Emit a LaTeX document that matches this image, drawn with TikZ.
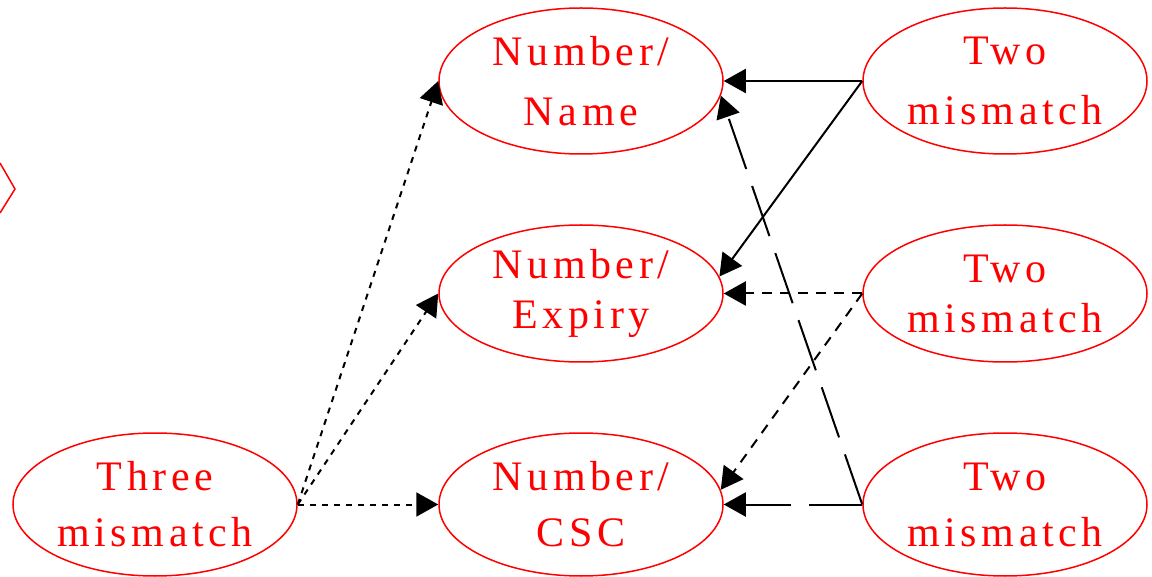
\documentclass[tikz,border=0pt]{standalone}
\usepackage{fontspec}
\setmainfont{Liberation Serif}[LetterSpace=11]
\usetikzlibrary{shapes.geometric,arrows.meta}
\tikzset{
  ell/.style={ellipse, draw=red, line width=1.5pt, minimum width=284pt, inner sep=0pt, text=red, align=center},
  rowa/.style={ell, minimum height=146pt, font=\fontsize{42}{60}\selectfont},
  rowb/.style={ell, minimum height=137pt, font=\fontsize{42}{50}\selectfont},
  rowc/.style={ell, minimum height=143pt, font=\fontsize{42}{56}\selectfont},
  tip/.style={-{Triangle[length=22pt,width=24pt]}},
  dotarr/.style={tip, line width=2pt, dash pattern=on 6pt off 6pt},
  dasharr/.style={tip, line width=2pt, dash pattern=on 10pt off 8pt},
  longarr/.style={tip, line width=2pt, dash pattern=on 53pt off 18pt},
  solidarr/.style={tip, line width=2pt}
}
\begin{document}
\begin{tikzpicture}[x=1pt,y=-1pt]
\useasboundingbox (0,0) rectangle (1152,577);
\node[rowc] (three) at (155,504.5) {Three\\mismatch};
\node[rowa] (name) at (581,81) {Number/\\Name};
\node[rowb] (expiry) at (581,293.5) {Number/\\Expiry};
\node[rowc] (csc) at (581,504.5) {Number/\\CSC};
\node[rowa] (twoa) at (1005,81) {Two\\mismatch};
\node[rowb] (twob) at (1005,293.5) {Two\\mismatch};
\node[rowc] (twoc) at (1005,504.5) {Two\\mismatch};
\draw[red, line width=1.5pt] (0,163) -- (15,189) -- (0,213);
\draw[dotarr] (three.east) -- (name.west);
\draw[dotarr] (three.east) -- (expiry.west);
\draw[dotarr] (three.east) -- (csc.west);
\draw[solidarr] (twoa.west) -- (name.east);
\draw[solidarr] (twoa.west) -- (expiry.7);
\draw[dasharr] (twob.west) -- (expiry.east);
\draw[dasharr] (twob.west) -- (csc.6);
\draw[longarr] (twoc.west) -- (csc.east);
\draw[longarr] (twoc.west) -- (name.-6);
\end{tikzpicture}
\end{document}
